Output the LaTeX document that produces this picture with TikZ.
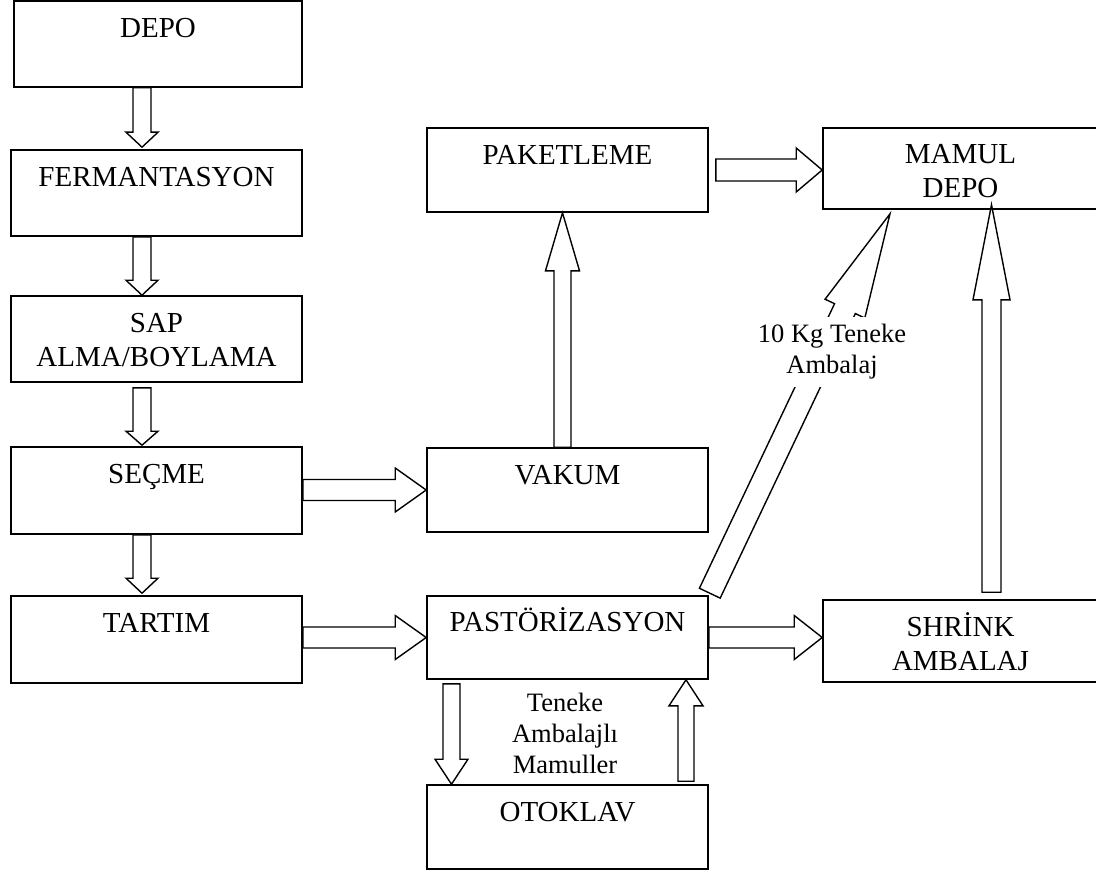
\documentclass[tikz,border=0pt]{standalone}
\usepackage{fontspec}
\setmainfont{Liberation Serif}
\usetikzlibrary{calc}

\tikzset{
  kutu/.style={draw, line width=1.6pt, inner sep=0pt},
  yazi/.style={anchor=north, inner sep=0pt, align=center, font=\fontsize{29}{34}\selectfont},
  notyazi/.style={inner sep=0pt, align=center, font=\fontsize{26.5}{30.7}\selectfont},
  blok/.style={draw, line width=1.4pt, fill=white, line join=miter},
}

% block arrow: #1 from, #2 tip, #3 half shaft, #4 half head, #5 head length
\newcommand{\blokok}[5]{%
  \draw[blok] ($(#1)!#3!90:(#2)$) -- ($($(#2)!#5!(#1)$)!#3!90:(#2)$)
    -- ($($(#2)!#5!(#1)$)!#4!90:(#2)$) -- (#2)
    -- ($($(#2)!#5!(#1)$)!#4!-90:(#2)$) -- ($($(#2)!#5!(#1)$)!#3!-90:(#2)$)
    -- ($(#1)!#3!-90:(#2)$) -- cycle;%
}

\begin{document}
\begin{tikzpicture}[x=1pt,y=-1pt]
            \useasboundingbox (0,0) rectangle (1096,872);

            % Left column of boxes
            \node[kutu, minimum width=288pt, minimum height=86pt] (depo) at (158,44) {};%
            \node[kutu, minimum width=291pt, minimum height=86pt] (ferm) at (156.5,193) {};%
            \node[kutu, minimum width=291pt, minimum height=86pt] (sap) at (156.5,339) {};%
            \node[kutu, minimum width=291pt, minimum height=87pt] (secme) at (156.5,490.5) {};%
            \node[kutu, minimum width=291pt, minimum height=87pt] (tartim) at (156.5,639.5) {};%

            % Middle column of boxes
            \node[kutu, minimum width=281pt, minimum height=84pt] (paket) at (567.5,170) {};%
            \node[kutu, minimum width=281pt, minimum height=84pt] (vakum) at (567.5,490) {};%
            \node[kutu, minimum width=281pt, minimum height=83pt] (past) at (567.5,637.5) {};%
            \node[kutu, minimum width=281pt, minimum height=84pt] (otoklav) at (567.5,827) {};%

            % Right column of boxes
            \node[kutu, minimum width=275pt, minimum height=81pt] (mamul) at (960.5,168.5) {};%
            \node[kutu, minimum width=275pt, minimum height=82pt] (shrink) at (960.5,641) {};%

            % Box texts
            \node[yazi] (depoyazi) at ([yshift=-13.2pt]depo.north) {\strut DEPO};%
            \node[yazi] (fermyazi) at ([yshift=-13.2pt]ferm.north) {\strut FERMANTASYON};%
            \node[yazi] (sapyazi) at ([yshift=-13.2pt]sap.north) {\strut SAP\\ALMA/BOYLAMA};%
            \node[yazi] (secmeyazi) at ([yshift=-13.2pt]secme.north) {\strut SEÇME};%
            \node[yazi] (tartimyazi) at ([yshift=-13.2pt]tartim.north) {\strut TARTIM};%
            \node[yazi] (paketyazi) at ([yshift=-13.2pt]paket.north) {\strut PAKETLEME};%
            \node[yazi] (vakumyazi) at ([yshift=-13.2pt]vakum.north) {\strut VAKUM};%
            \node[yazi] (pastyazi) at ([yshift=-12.2pt]past.north) {\strut PASTÖRİZASYON};%
            \node[yazi] (otoklavyazi) at ([yshift=-13.2pt]otoklav.north) {\strut OTOKLAV};%
            \node[yazi] (mamulyazi) at ([yshift=-12.2pt]mamul.north) {\strut MAMUL\\DEPO};%
            \node[yazi] (shrinkyazi) at ([yshift=-13.2pt]shrink.north) {\strut SHRİNK\\AMBALAJ};%

            % Arrows down the left column
            \blokok{[xshift=-16pt]depo.south}{[xshift=-14.5pt,yshift=2pt]ferm.north}{9pt}{16pt}{15pt}
            \blokok{[xshift=-14.5pt]ferm.south}{[xshift=-14.5pt]sap.north}{9pt}{16pt}{15pt}
            \blokok{[xshift=-14.5pt,yshift=-5pt]sap.south}{[xshift=-14.5pt,yshift=1pt]secme.north}{9pt}{16pt}{14pt}
            \blokok{[xshift=-14.5pt]secme.south}{[xshift=-14.5pt,yshift=2pt]tartim.north}{9pt}{16pt}{15pt}

            % Arrows to the middle column
            \blokok{secme.east |- vakum.west}{vakum.west}{10.5pt}{22pt}{31pt}
            \blokok{tartim.east |- past.west}{past.west}{10.5pt}{22pt}{31pt}
            \blokok{[xshift=-5pt]vakum.north}{[xshift=-5pt]paket.south}{8.5pt}{17pt}{58pt}

            % Arrows to the right column
            \blokok{[xshift=7pt]paket.east}{mamul.west |- paket.east}{11pt}{22pt}{26pt}
            \blokok{past.east}{shrink.west |- past.east}{10.5pt}{22pt}{28pt}
            \blokok{[xshift=31pt,yshift=7pt]shrink.north}{[xshift=31pt,yshift=5pt]mamul.south}{9.5pt}{18.5pt}{95pt}

            % Arrows between PASTORIZASYON and OTOKLAV
            \blokok{[xshift=-116pt,yshift=-4pt]past.south}{[xshift=-116pt]otoklav.north}{8.5pt}{16.5pt}{25pt}
            \blokok{[xshift=118.5pt,yshift=3pt]otoklav.north}{[xshift=118.5pt]past.south}{8pt}{17pt}{26pt}

            % Slanted arrow to MAMUL DEPO with its label on top
            \blokok{[xshift=1pt,yshift=2pt]past.north east}{[xshift=-70.5pt,yshift=-4pt]mamul.south}{11.5pt}{22pt}{105pt}
            \node[notyazi, fill=white, inner sep=4pt] (onkg) at (832,352) {\strut 10 Kg Teneke\\Ambalaj\strut};%

            % Label between the two small arrows
            \node[notyazi, anchor=north] (teneke) at (565,690.3) {\strut Teneke\\Ambalajlı\\Mamuller};%
\end{tikzpicture}
\end{document}
